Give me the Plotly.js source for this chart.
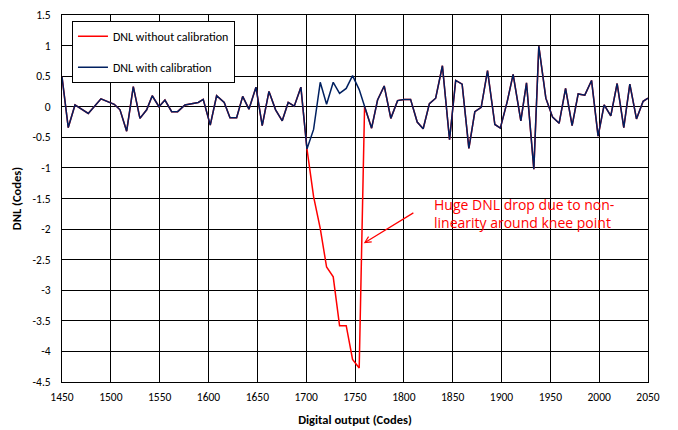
<!DOCTYPE html>
<html>
<head>
<meta charset="utf-8">
<script src="https://cdn.plot.ly/plotly-3.0.1.min.js"></script>
<style>html,body{margin:0;padding:0;background:#fff;}#chart{width:678px;height:430px;}</style>
</head>
<body>
<div id="chart"></div>
<script>
// Digital output codes (x)
const codes = [1450,1456.4,1463.3,1476.9,1489.9,1503.5,1509.4,1516.2,1523,1529.8,1536.7,1542.4,1549.3,1555.4,1562.3,1568.4,1575.9,1589.5,1594.6,1601.8,1608.3,1616.1,1622,1628.8,1635,1641.4,1648.6,1655,1661.9,1668.7,1675.5,1681.6,1687.8,1694.6,1700.8,1707.6,1714.4,1720.9,1727.7,1734.2,1741,1747.5,1754.3,1759.8,1767,1773.1,1779.9,1786.7,1793.6,1800,1806.9,1813.7,1819.8,1826.2,1832.6,1839.5,1846.8,1853.1,1859.7,1866.6,1872.7,1879.2,1885.7,1893.2,1898.8,1905.8,1911.9,1919.8,1925.6,1933.1,1938.2,1945.4,1952.3,1959,1965.6,1972.3,1978.5,1985.3,1992.2,1998.9,2005.1,2011.9,2018.4,2025.2,2031.4,2038.2,2045,2050];
// DNL with calibration
const dnlWith = [0.49,-0.34,0.03,-0.11,0.13,0.04,-0.05,-0.40,0.33,-0.19,-0.05,0.18,0.00,0.11,-0.08,-0.08,0.03,0.07,0.12,-0.30,0.18,0.07,-0.18,-0.18,0.17,-0.04,0.32,-0.31,0.25,-0.05,-0.23,0.07,0.01,0.32,-0.69,-0.37,0.40,0.04,0.40,0.22,0.30,0.51,0.28,0.00,-0.35,0.11,0.34,-0.19,0.10,0.12,0.12,-0.25,-0.36,0.05,0.14,0.67,-0.54,0.43,0.37,-0.68,-0.08,-0.01,0.59,-0.29,-0.35,0.08,0.53,-0.23,0.39,-1.02,0.99,0.14,-0.17,-0.27,0.30,-0.31,0.21,0.19,0.43,-0.48,0.03,-0.15,0.38,-0.34,0.37,-0.20,0.09,0.14];
// DNL without calibration
const dnlWithout = [0.49,-0.34,0.03,-0.11,0.13,0.04,-0.05,-0.40,0.33,-0.19,-0.05,0.18,0.00,0.11,-0.08,-0.08,0.03,0.07,0.12,-0.30,0.18,0.07,-0.18,-0.18,0.17,-0.04,0.32,-0.31,0.25,-0.05,-0.23,0.07,0.01,0.32,-0.69,-1.47,-1.99,-2.62,-2.78,-3.58,-3.58,-4.13,-4.27,0.00,-0.35,0.11,0.34,-0.19,0.10,0.12,0.12,-0.25,-0.36,0.05,0.14,0.67,-0.54,0.43,0.37,-0.68,-0.08,-0.01,0.59,-0.29,-0.35,0.08,0.53,-0.23,0.39,-1.02,0.99,0.14,-0.17,-0.27,0.30,-0.31,0.21,0.19,0.43,-0.48,0.03,-0.15,0.38,-0.34,0.37,-0.20,0.09,0.14];

const xTickVals = [1450,1500,1550,1600,1650,1700,1750,1800,1850,1900,1950,2000,2050];
const xTickText = ["1450","1500","1550","1600","1650","1700","1750","1800","1850","1900","1950","2000","2050"];
const yTickVals = [-4.5,-4,-3.5,-3,-2.5,-2,-1.5,-1,-0.5,0,0.5,1,1.5];
const yTickText = ["-4.5","-4","-3.5","-3","-2.5","-2","-1.5","-1","-0.5","0","0.5","1","1.5"];

const seriesNames = ["DNL without calibration","DNL with calibration"];
const annotationText = "Huge DNL drop due to non-<br>linearity around knee point";

const FONT = "Carlito, Lato, 'Open Sans', sans-serif";

const traces = [
  {x: codes, y: dnlWithout, type: 'scatter', mode: 'lines', name: seriesNames[0],
   legendgroup: 'a', line: {color: '#ff0000', width: 1.5}},
  {x: codes, y: dnlWith, type: 'scatter', mode: 'lines', name: seriesNames[1],
   legendgroup: 'b', line: {color: '#002060', width: 1.5}}
];

const layout = {
  width: 678, height: 430,
  margin: {l: 62, r: 30, t: 15, b: 48},
  paper_bgcolor: '#fff', plot_bgcolor: '#fff',
  font: {family: FONT, color: '#000', size: 11},
  showlegend: true,
  legend: {x: 0.017, y: 0.984, xanchor: 'left', yanchor: 'top',
           bgcolor: '#fff', bordercolor: '#000', borderwidth: 1,
           font: {family: FONT, size: 12, color: '#000'}, tracegroupgap: 12},
  xaxis: {range: [1450, 2050], tickvals: xTickVals, ticktext: xTickText,
          showgrid: true, gridcolor: '#000', gridwidth: 1, zeroline: false,
          showline: true, linecolor: '#000', linewidth: 1, mirror: true,
          ticks: '', ticklabelstandoff: 4, tickfont: {family: FONT, size: 11.5, color: '#000'},
          title: {text: 'Digital output (Codes)', font: {family: FONT, size: 12.5, color: '#000', weight: 'bold'}, standoff: 12}},
  yaxis: {range: [-4.5, 1.5], tickvals: yTickVals, ticktext: yTickText,
          showgrid: true, gridcolor: '#000', gridwidth: 1, zeroline: false,
          showline: true, linecolor: '#000', linewidth: 1, mirror: true,
          ticks: '', ticklabelstandoff: 8, tickfont: {family: FONT, size: 11.5, color: '#000'},
          title: {text: 'DNL (Codes)', font: {family: FONT, size: 12.5, color: '#000', weight: 'bold'}, standoff: 8}},
  annotations: [
    {x: 1759, y: -2.23, xref: 'x', yref: 'y', ax: 1811.3, ay: -1.72, axref: 'x', ayref: 'y',
     showarrow: true, arrowhead: 5, arrowsize: 1, arrowwidth: 1.2, arrowcolor: '#ff0000', text: ''},
    {x: 1828.7, y: -1.75, xref: 'x', yref: 'y', xanchor: 'left', yanchor: 'middle', align: 'left',
     showarrow: false, text: annotationText, font: {family: "'Open Sans', Lato, sans-serif", size: 14, color: '#ff0000'}}
  ]
};

Plotly.newPlot('chart', traces, layout, {displayModeBar: false, staticPlot: true});
</script>
</body>
</html>
